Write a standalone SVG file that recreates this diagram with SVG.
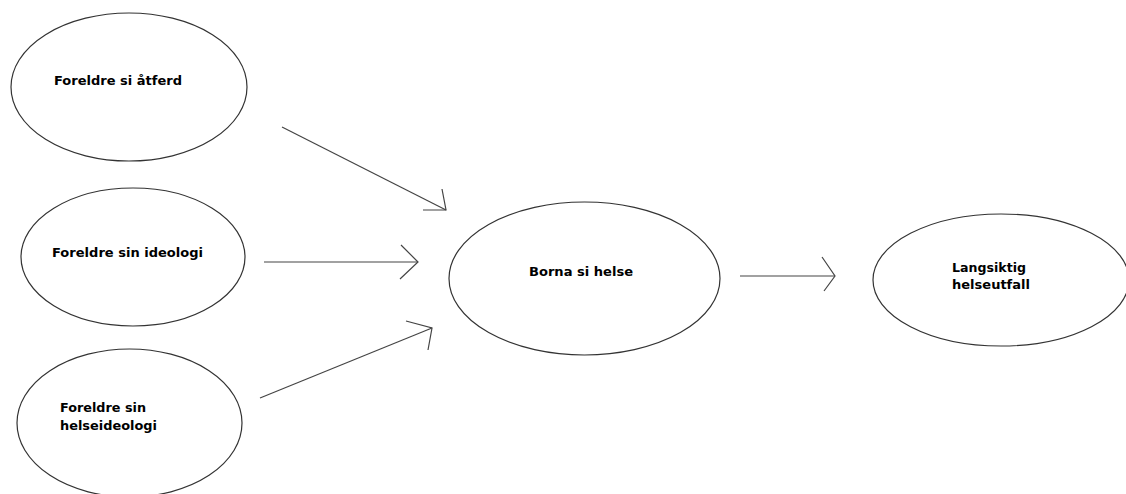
<svg xmlns="http://www.w3.org/2000/svg" width="1126" height="494" viewBox="0 0 1126 494">
<style>
.n ellipse{fill:#fff;stroke:#333;stroke-width:1.2}
.n text{font-family:"DejaVu Sans",sans-serif;font-weight:bold;font-size:12.5px;fill:#000}
.c line,.c polyline{stroke:#444;stroke-width:1.2;fill:none}
</style>
<rect width="1126" height="494" fill="#fff"/>
<g id="n1" class="n"><ellipse cx="129" cy="87" rx="118" ry="74"/><text x="54" y="85" textLength="128" lengthAdjust="spacingAndGlyphs">Foreldre si åtferd</text></g>
<g id="n2" class="n"><ellipse cx="133" cy="257" rx="112" ry="69"/><text x="52" y="257" textLength="151" lengthAdjust="spacingAndGlyphs">Foreldre sin ideologi</text></g>
<g id="n3" class="n"><ellipse cx="129.5" cy="423" rx="112.5" ry="74"/><text x="60" y="412" textLength="86" lengthAdjust="spacingAndGlyphs">Foreldre sin</text><text x="60" y="430" textLength="97" lengthAdjust="spacingAndGlyphs">helseideologi</text></g>
<g id="n4" class="n"><ellipse cx="584.5" cy="278.5" rx="135.5" ry="76.5"/><text x="529" y="276" textLength="104" lengthAdjust="spacingAndGlyphs">Borna si helse</text></g>
<g id="n5" class="n"><ellipse cx="1001" cy="280" rx="128" ry="66"/><text x="952" y="272" textLength="74" lengthAdjust="spacingAndGlyphs">Langsiktig</text><text x="952" y="289" textLength="78" lengthAdjust="spacingAndGlyphs">helseutfall</text></g>
<g id="connectors" class="c">
<line x1="282" y1="127" x2="446" y2="210"/><polyline points="442,189 446,210 423,210"/>
<line x1="264" y1="262" x2="418" y2="262"/><polyline points="401,245 418,262 400,279"/>
<line x1="260" y1="398" x2="432" y2="328"/><polyline points="406,321 432,328 428,350"/>
<line x1="740" y1="276" x2="835" y2="276"/><polyline points="822,257 835,276 824,291"/>
</g>
</svg>
